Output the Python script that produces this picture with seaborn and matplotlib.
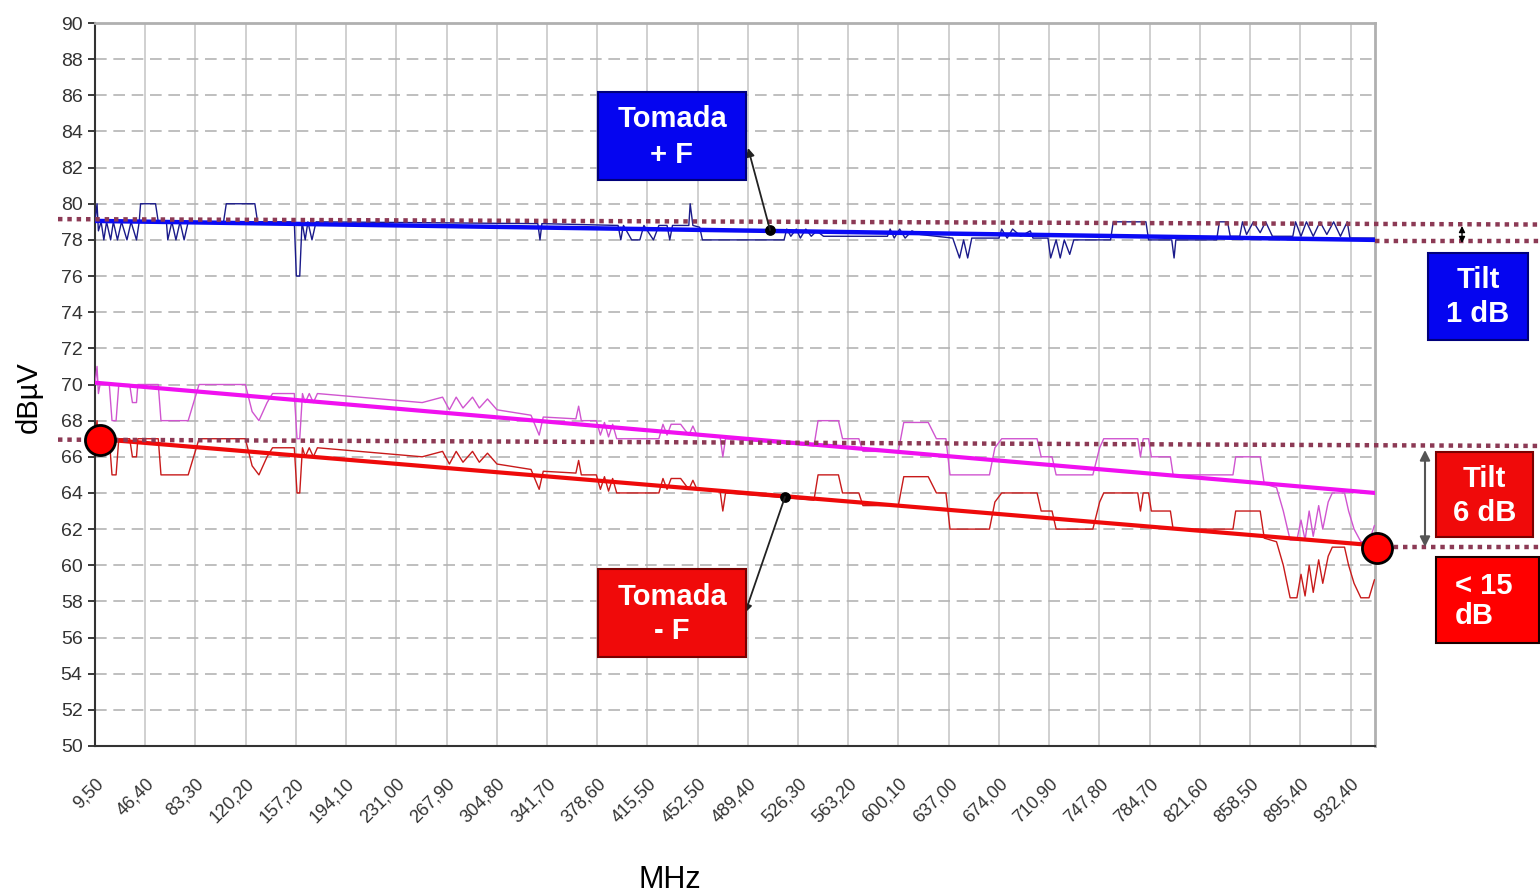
import matplotlib
matplotlib.use("Agg")
import matplotlib.pyplot as plt
import seaborn as sns
from matplotlib.patches import Rectangle

# x-axis ticks (MHz) as printed on the chart
tick_freqs = [9.5, 46.4, 83.3, 120.2, 157.2, 194.1, 231.0, 267.9, 304.8, 341.7,
              378.6, 415.5, 452.5, 489.4, 526.3, 563.2, 600.1, 637.0, 674.0, 710.9,
              747.8, 784.7, 821.6, 858.5, 895.4, 932.4]
tick_labels = [f"{v:.2f}".replace(".", ",") for v in tick_freqs]

# trend lines (thick)
trend_freq = [9.5, 950.4]
plus_trend = [79.05, 78.0]
minus_trend = [67.0, 61.1]
mag_trend = [70.1, 64.0]

# raw trace "Tomada + F" (thin navy)
plus_freq = [9.5, 11, 12, 14, 16, 18, 21, 23, 26, 29, 33, 36, 40, 42, 43, 54, 56, 62, 63, 66,
             69, 72, 75, 78, 104, 106, 127, 129, 156, 157.5, 160, 161.7, 164, 166, 169, 172,
             335, 336.6, 338, 394, 396, 398, 404, 410, 413, 420, 424, 430, 432, 434, 446, 447,
             449, 454, 456, 460, 516, 518, 521, 525, 528, 532, 536, 540, 545, 592, 594, 597,
             601, 605, 610, 616, 640, 645, 648, 651, 654, 674, 676, 680, 684, 690, 697, 699,
             710, 712, 716, 719, 722, 726, 729, 733, 756, 758, 782, 784, 801, 802.7, 804, 834,
             836, 842, 844, 851, 853, 856, 861, 866, 870, 875, 890, 892, 896, 900, 905, 910,
             915, 920, 925, 930, 932, 950]
plus_raw = [79, 80, 78.5, 79, 78, 79, 78, 79, 78, 79, 78, 79, 78, 79, 80, 80, 79, 79, 78, 79,
            78, 79, 78, 79, 79, 80, 80, 79, 79, 76, 76, 79, 78, 79, 78, 79,
            78.9, 78, 78.9, 78.8, 78, 78.8, 78, 78, 78.8, 78, 78.8, 78.8, 78, 78.8, 78.8, 80,
            78.8, 78.7, 78, 78, 78, 78.6, 78.2, 78.6, 78.1, 78.6, 78.2, 78.5, 78.2, 78.2, 78.6, 78.1,
            78.6, 78.1, 78.5, 78.3, 78.1, 77, 78, 77, 78.1, 78.1, 78.6, 78.1, 78.6, 78.2, 78.5, 78.1,
            78.1, 77, 78, 77, 78, 77.2, 78, 78, 78, 79, 79, 78, 78, 77, 78, 78,
            79, 79, 78.2, 78.2, 79, 78.3, 79, 78.4, 79, 78.2, 78.2, 79, 78.2, 79, 78.2, 79,
            78.3, 79, 78.2, 79, 78.1, 78.1]

# raw traces "Tomada - F" (thin red) and the magenta one, same sweep points
raw_freq = [9.5, 11, 12, 13.2, 20, 22, 25, 27, 35, 37, 40, 41, 56, 58, 78, 82, 86, 120, 125,
            130, 136, 140, 156, 158, 160, 162, 164, 167, 170, 173, 250, 265, 270, 275, 280,
            287, 292, 298, 305, 330, 336, 339, 363, 365, 367, 378, 381, 384, 387, 390, 393,
            396, 424, 427, 430, 433, 440, 446, 449, 452, 469, 471, 473, 538, 541, 556, 559,
            571, 574, 600, 604, 622, 628, 635, 638, 667, 671, 676, 702, 705, 713, 716, 743,
            748, 751, 776, 778, 780, 784, 786, 800, 802, 846, 848, 866, 869, 878, 883, 888,
            893, 896, 899, 902, 905, 909, 912, 916, 919, 928, 931, 935, 940, 946, 950]
minus_raw = [67, 68, 66.5, 67, 67, 65, 65, 67, 67, 66, 66, 67, 67, 65, 65, 66, 67, 67, 65.5,
             65, 66, 66.5, 66.5, 64, 64, 66.5, 66, 66.5, 66, 66.5, 66, 66.3, 65.6, 66.3, 65.7,
             66.3, 65.7, 66.2, 65.6, 65.3, 64.2, 65.2, 65.1, 65.8, 65.0, 65.0, 64.2, 64.9, 64.1, 64.8, 64.0,
             64.0, 64.0, 64.8, 64.2, 64.8, 64.8, 64.2, 64.7, 64.2, 64.1, 63.0, 64.0, 63.6, 65.0, 65.0, 64.0,
             64.0, 63.3, 63.3, 64.9, 64.9, 64.0, 64.0, 62.0, 62.0, 63.5, 64.0, 64.0, 63.0, 63.0, 62.0, 62.0,
             63.5, 64.0, 64.0, 63.0, 64.0, 64.0, 63.0, 63.0, 62.0, 62.0, 63.0, 63.0, 61.5, 61.3, 60.0, 58.2,
             58.2, 59.5, 58.3, 60.0, 58.5, 60.3, 59.0, 60.5, 61.0, 61.0, 60.0, 59.0, 58.2, 58.2, 59.2]
mag_raw = [70, 71, 69.5, 70, 70, 68, 68, 70, 70, 69, 69, 70, 70, 68, 68, 69, 70, 70, 68.5,
           68, 69, 69.5, 69.5, 67, 67, 69.5, 69, 69.5, 69, 69.5, 69, 69.3, 68.6, 69.3, 68.7,
           69.3, 68.7, 69.2, 68.6, 68.3, 67.2, 68.2, 68.1, 68.8, 68.0, 68.0, 67.2, 67.9, 67.1, 67.8, 67.0,
           67.0, 67.0, 67.8, 67.2, 67.8, 67.8, 67.2, 67.7, 67.2, 67.1, 66.0, 67.0, 66.6, 68.0, 68.0, 67.0,
           67.0, 66.3, 66.3, 67.9, 67.9, 67.0, 67.0, 65.0, 65.0, 66.5, 67.0, 67.0, 66.0, 66.0, 65.0, 65.0,
           66.5, 67.0, 67.0, 66.0, 67.0, 67.0, 66.0, 66.0, 65.0, 65.0, 66.0, 66.0, 64.5, 64.3, 63.0, 61.4,
           61.4, 62.5, 61.4, 63.0, 61.6, 63.3, 62.0, 63.5, 64.0, 64.0, 63.0, 62.0, 61.3, 61.3, 62.2]

W, H = 1540, 893
sns.set_theme(style="white")
plt.rcParams["font.family"] = ["Liberation Sans", "DejaVu Sans"]

fig = plt.figure(figsize=(W / 100, H / 100), dpi=100)
ax = fig.add_axes([95 / W, 1 - 746 / H, 1280 / W, 723 / H])

# raw traces
sns.lineplot(x=plus_freq, y=plus_raw, ax=ax, color="#1a1a8a", lw=1.0, estimator=None, sort=False, zorder=3)
sns.lineplot(x=raw_freq, y=mag_raw, ax=ax, color="#d055d0", lw=1.0, estimator=None, sort=False, zorder=3)
sns.lineplot(x=raw_freq, y=minus_raw, ax=ax, color="#c81a1a", lw=1.0, estimator=None, sort=False, zorder=3)
# thick trend lines
sns.lineplot(x=trend_freq, y=plus_trend, ax=ax, color="#0a0af5", lw=3.2, estimator=None, zorder=4)
sns.lineplot(x=trend_freq, y=mag_trend, ax=ax, color="#f010f0", lw=3.0, estimator=None, zorder=4)
sns.lineplot(x=trend_freq, y=minus_trend, ax=ax, color="#ee0a0a", lw=3.0, estimator=None, zorder=4)

ax.set_xlim(9.5, 950.4)
ax.set_ylim(50, 90)
ax.set_yticks(range(50, 91, 2))
ax.set_xticks(tick_freqs)
ax.set_xticklabels(tick_labels, rotation=45, ha="right", va="top", rotation_mode="anchor")
ax.tick_params(axis="x", labelsize=13, colors="#333333", length=4, pad=17)
ax.tick_params(axis="y", labelsize=14, colors="#333333", length=5, pad=4, left=True)
ax.tick_params(axis="both", color="#222222", direction="out")
ax.grid(axis="x", color="#c8c8c8", lw=1.2, ls="-")
ax.grid(axis="y", color="#b4b4b4", lw=1.2, ls=(0, (7, 4)))
for s in ["left", "bottom"]:
    ax.spines[s].set_color("#333333")
    ax.spines[s].set_linewidth(1.5)
for s in ["top", "right"]:
    ax.spines[s].set_color("#b0b0b0")
    ax.spines[s].set_linewidth(2)

ax.set_ylabel("dB\u00b5V", fontsize=21, color="black")
ax.yaxis.set_label_coords(-0.041, 0.483)
ax.set_xlabel("MHz", fontsize=22, color="black")
ax.xaxis.set_label_coords(0.449, -0.164)

# dotted reference levels
dot_kw = dict(color="#8c3a55", lw=3.2, ls=(0, (1, 1.1)), clip_on=False, zorder=6)
ax.plot([-17.7, 1071.7], [79.15, 78.85], **dot_kw)
ax.plot([950.4, 1071.7], [77.95, 77.95], **dot_kw)
ax.plot([-17.7, 1071.7], [66.95, 66.6], **dot_kw)
ax.plot([950.4, 1071.7], [61.0, 61.0], **dot_kw)

# red circle markers
ax.scatter([13.2, 951.9], [66.95, 60.95], s=470, color="#ff0000", edgecolor="black",
           linewidth=2, zorder=8, clip_on=False)
# black dots on the trend lines
ax.scatter([505.7, 516.7], [78.55, 63.78], s=45, color="black", zorder=8)


def box(x0, y0, x1, y1, face, edge, lines, ys, ha="center", tx=None):
    fig.add_artist(Rectangle((x0 / W, 1 - y1 / H), (x1 - x0) / W, (y1 - y0) / H,
                             transform=fig.transFigure, facecolor=face, edgecolor=edge,
                             lw=1.5, zorder=10))
    xt = (x0 + x1) / 2 if tx is None else tx
    for t, yc in zip(lines, ys):
        fig.text(xt / W, 1 - yc / H, t, ha=ha, va="center", color="white",
                 fontsize=21, fontweight="bold", zorder=11)


box(598, 92, 746, 180, "#0505f0", "#00007a", ["Tomada", "+ F"], [119, 155])
box(598, 569, 746, 657, "#f00a0a", "#7a0000", ["Tomada", "- F"], [597, 631])
box(1428, 253, 1528, 340, "#0505f0", "#00007a", ["Tilt", "1 dB"], [280, 314])
box(1436, 452, 1533, 537, "#f00a0a", "#7a0000", ["Tilt", "6 dB"], [479, 513])
box(1436, 557, 1539, 643, "#ff0000", "#1a0000", ["< 15", "dB"], [586, 616], ha="left", tx=1455)

arrow_kw = dict(arrowstyle="-|>", color="#222222", lw=1.3, mutation_scale=12,
                shrinkA=0, shrinkB=0)
ax.annotate("", xy=(748, H - 148), xycoords="figure pixels",
            xytext=(505.7, 78.55), textcoords="data", arrowprops=arrow_kw, zorder=12)
ax.annotate("", xy=(745, H - 613), xycoords="figure pixels",
            xytext=(516.7, 63.78), textcoords="data", arrowprops=arrow_kw, zorder=12)
ax.annotate("", xy=(1462, H - 226), xycoords="figure pixels",
            xytext=(1462, H - 243), textcoords="figure pixels",
            arrowprops=dict(arrowstyle="<|-|>", color="black", lw=1, mutation_scale=9,
                            shrinkA=0, shrinkB=0), zorder=12)
ax.annotate("", xy=(1425, H - 450), xycoords="figure pixels",
            xytext=(1425, H - 547), textcoords="figure pixels",
            arrowprops=dict(arrowstyle="<|-|>", color="#555555", lw=1.5, mutation_scale=15,
                            shrinkA=0, shrinkB=0), zorder=12)

fig.savefig("out.png", dpi=100)
